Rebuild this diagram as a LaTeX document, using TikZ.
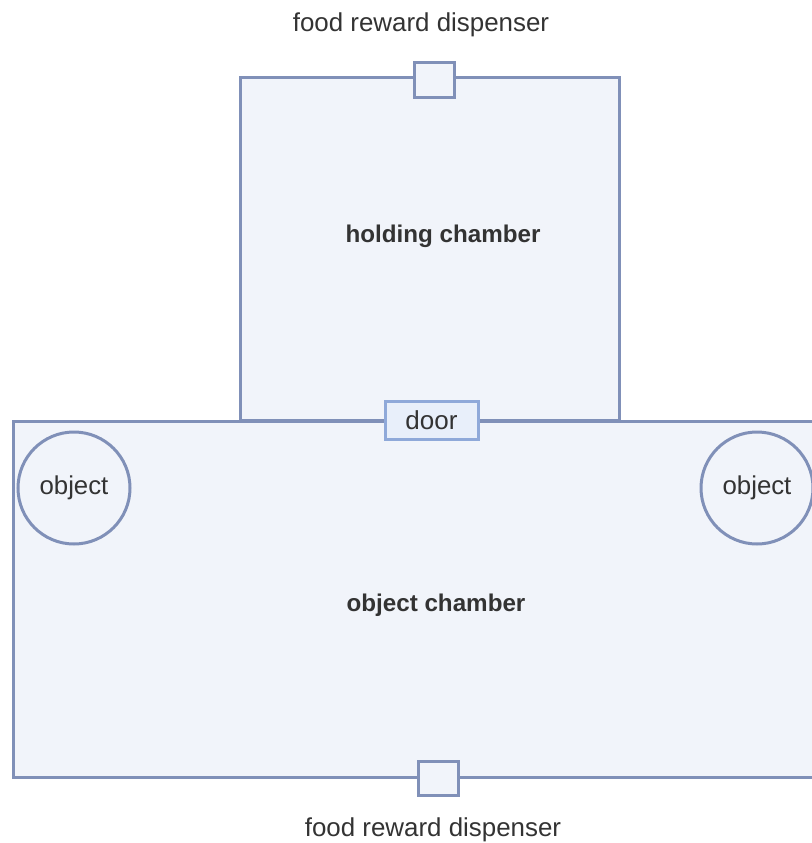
\documentclass[tikz,border=0pt]{standalone}
\usepackage{fontspec}
\setmainfont{Liberation Sans}
\definecolor{edge}{HTML}{8090B8}
\definecolor{roomfill}{HTML}{F1F4FA}
\definecolor{doorfill}{HTML}{E8EFFA}
\definecolor{dooredge}{HTML}{8FA9D9}
\definecolor{ink}{HTML}{333333}
\begin{document}
\begin{tikzpicture}[x=1pt,y=-1pt,
  room/.style={draw=edge,fill=roomfill,line width=3pt,inner sep=0pt,outer sep=0pt,anchor=north west},
  disp/.style={draw=edge,fill=roomfill,line width=3pt,inner sep=0pt,minimum width=40pt,minimum height=34pt},
  doorbox/.style={draw=dooredge,fill=doorfill,line width=3pt,inner sep=0pt,minimum width=93pt,minimum height=38pt,text=ink,font=\fontsize{26}{30}\selectfont},
  obj/.style={circle,draw=edge,fill=roomfill,line width=3pt,inner sep=0pt,minimum size=112pt,text=ink,font=\fontsize{25.8}{30}\selectfont},
  lbl/.style={text=ink,inner sep=0pt,font=\fontsize{25.9}{30}\selectfont},
  title/.style={text=ink,inner sep=0pt,font=\fontsize{24.2}{28}\selectfont\bfseries}]
\useasboundingbox (0,0) rectangle (811,843);
\node[room,minimum width=846pt,minimum height=356pt] (objch) at (13,421) {};
\node[room,minimum width=379pt,minimum height=343pt] (holdch) at (240,77) {};
\node[disp] (topdisp) at (434.5,80) {};
\node[disp] (botdisp) at (438,778.5) {};
\node[doorbox] (door) at (431.5,420.5) {door};
\node[obj] (objL) at (74,488) {object};
\node[obj] (objR) at (757,488) {object};
\node[title] (holdlbl) at (443,236) {holding chamber};
\node[title] (objlbl) at (436,605) {object chamber};
\node[lbl] (toplbl) at (421,25) {food reward dispenser};
\node[lbl] (botlbl) at (433,830) {food reward dispenser};
\end{tikzpicture}
\end{document}
